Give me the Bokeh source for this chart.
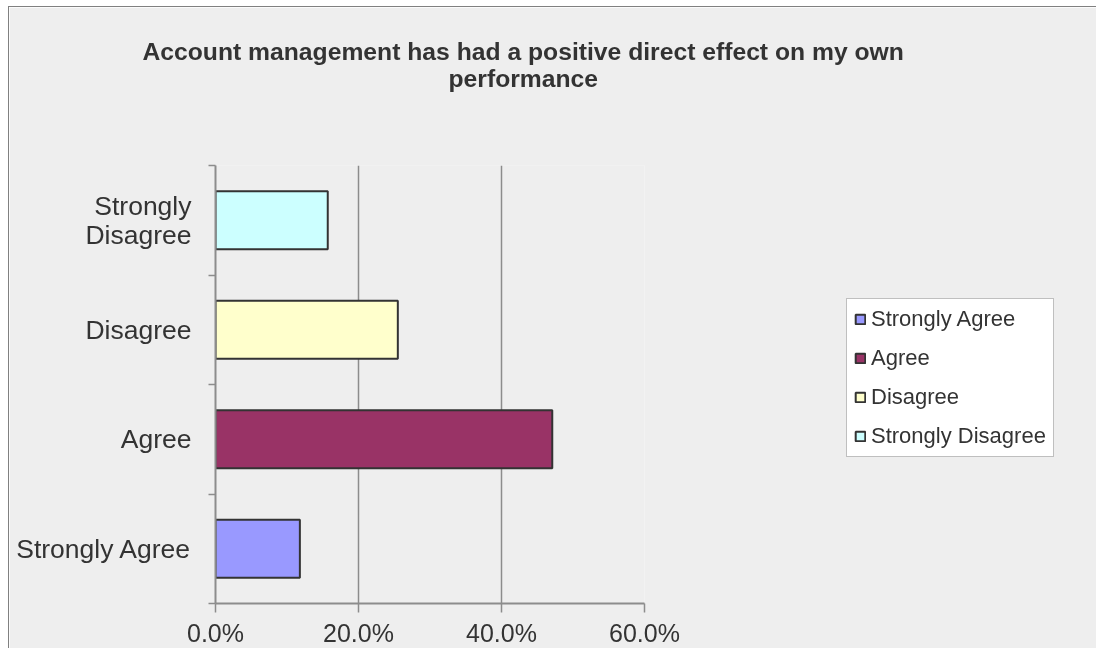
from bokeh.plotting import figure
from bokeh.models import (ColumnDataSource, Range1d, LinearAxis, Title,
                          FixedTicker, NumeralTickFormatter)
from bokeh.embed import file_html
from bokeh.resources import INLINE

# ---- data ----
categories = ["Strongly Agree", "Agree", "Disagree", "Strongly Disagree"]
values = [0.118, 0.471, 0.255, 0.157]
colors = ["#9999FF", "#993366", "#FFFFCC", "#CCFFFF"]
axis_labels = {"Strongly Disagree": "Strongly\nDisagree"}
x_ticks = [0.0, 0.2, 0.4, 0.6]
title_lines = ["Account management has had a positive direct effect on my own", "performance"]

FONT = "Liberation Sans"
TXT = "#333333"
GRID = "#8c8c8c"
BG = "#eeeeee"

n = len(categories)
ypos = [i + 0.5 for i in range(n)]          # category slot centres
bounds = [float(i) for i in range(n + 1)]   # category slot boundaries
src = ColumnDataSource(dict(cat=categories, y=ypos, val=values, color=colors))

p = figure(frame_width=429, frame_height=438, output_backend="svg", toolbar_location=None,
           y_range=Range1d(0, n), x_range=Range1d(0, 0.6), y_axis_location=None,
           min_border_left=206, min_border_top=158, min_border_right=452, min_border_bottom=50)
p.styles = {"position": "fixed", "left": "8px", "top": "6px",
            "border-left": "1px solid #808080", "border-top": "1px solid #808080"}
p.background_fill_color = BG
p.border_fill_color = BG
p.outline_line_color = None

# category axis: labels at slot centres, tick marks at slot boundaries
overrides = {y: axis_labels.get(c, c) for y, c in zip(ypos, categories)}
cat_axis = LinearAxis(ticker=FixedTicker(ticks=ypos, minor_ticks=bounds),
                      major_label_overrides=overrides,
                      major_tick_out=0, major_tick_in=0, major_tick_line_color=None,
                      minor_tick_out=7, minor_tick_in=0, minor_tick_line_color=GRID,
                      minor_tick_line_width=1.5,
                      axis_line_color=GRID, axis_line_width=2, major_label_standoff=17,
                      major_label_text_font=FONT, major_label_text_font_size="26.5px",
                      major_label_text_line_height=0.97, major_label_text_color=TXT)
p.add_layout(cat_axis, "left")

# x axis
xa = p.xaxis[0]
xa.ticker = FixedTicker(ticks=x_ticks)
xa.formatter = NumeralTickFormatter(format="0.0%")
xa.major_tick_out = 9
xa.major_tick_in = 0
xa.minor_tick_line_color = None
xa.axis_line_color = GRID
xa.axis_line_width = 2
xa.major_tick_line_color = GRID
xa.major_tick_line_width = 1.5
xa.major_label_standoff = 6
xa.major_label_text_font = FONT
xa.major_label_text_font_size = "25px"
xa.major_label_text_color = TXT

p.xgrid.ticker = FixedTicker(ticks=x_ticks)
p.xgrid.grid_line_color = GRID
p.xgrid.grid_line_width = 1.5
p.ygrid.visible = False

p.hbar(y="y", right="val", left=0, height=0.53, fill_color="color",
       line_color="#333333", line_width=2, legend_field="cat", source=src)

lg = p.legend[0]
p.center.remove(lg)
lg.location = (202, 146)
lg.background_fill_color = "white"
lg.background_fill_alpha = 1
lg.border_line_color = "#808080"
lg.border_line_width = 1
lg.padding = 7
lg.spacing = 13
lg.margin = 0
lg.label_height = 26
lg.glyph_height = 12
lg.glyph_width = 12
lg.label_standoff = 5
lg.label_text_font = FONT
lg.label_text_font_size = "22px"
lg.label_text_color = TXT
p.add_layout(lg, "right")

# blank spacer between frame and title (a single space character)
p.add_layout(Title(text=" ", text_font=FONT, text_font_size="1px", text_color=BG, standoff=69), "above")
p.add_layout(Title(text=title_lines[1], align="left", offset=233, vertical_align="top", standoff=0,
                   text_font=FONT, text_font_size="24.7px", text_font_style="bold", text_color=TXT), "above")
p.add_layout(Title(text=title_lines[0], align="left", offset=-73, vertical_align="bottom", standoff=0,
                   text_font=FONT, text_font_size="24.7px", text_font_style="bold", text_color=TXT), "above")

open("out.html", "w").write(file_html(p, INLINE))
